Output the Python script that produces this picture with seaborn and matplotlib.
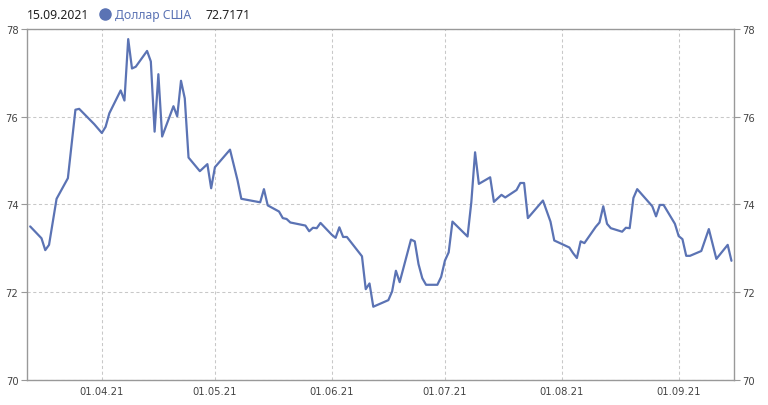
import pandas as pd
import matplotlib
matplotlib.use("Agg")
import matplotlib.pyplot as plt
import matplotlib.dates as mdates
from matplotlib.lines import Line2D
import seaborn as sns

# USD rate
dates = ["2021-03-13", "2021-03-16", "2021-03-17", "2021-03-18", "2021-03-20",
         "2021-03-23", "2021-03-25", "2021-03-26", "2021-03-30", "2021-04-01",
         "2021-04-02", "2021-04-03", "2021-04-06", "2021-04-07", "2021-04-08",
         "2021-04-09", "2021-04-10", "2021-04-13", "2021-04-14", "2021-04-15",
         "2021-04-16", "2021-04-17", "2021-04-20", "2021-04-21", "2021-04-22",
         "2021-04-23", "2021-04-24", "2021-04-27", "2021-04-29", "2021-04-30",
         "2021-05-01", "2021-05-05", "2021-05-07", "2021-05-08", "2021-05-13",
         "2021-05-14", "2021-05-15", "2021-05-18", "2021-05-19", "2021-05-20",
         "2021-05-21", "2021-05-25", "2021-05-26", "2021-05-27", "2021-05-28",
         "2021-05-29", "2021-06-01", "2021-06-02", "2021-06-03", "2021-06-04",
         "2021-06-05", "2021-06-09", "2021-06-10", "2021-06-11", "2021-06-12",
         "2021-06-16", "2021-06-17", "2021-06-18", "2021-06-19", "2021-06-22",
         "2021-06-23", "2021-06-24", "2021-06-25", "2021-06-26", "2021-06-29",
         "2021-06-30", "2021-07-01", "2021-07-02", "2021-07-03", "2021-07-07",
         "2021-07-08", "2021-07-09", "2021-07-10", "2021-07-13", "2021-07-14",
         "2021-07-16", "2021-07-17", "2021-07-20", "2021-07-21", "2021-07-22",
         "2021-07-23", "2021-07-27", "2021-07-29", "2021-07-30", "2021-08-03",
         "2021-08-04", "2021-08-05", "2021-08-06", "2021-08-07", "2021-08-10",
         "2021-08-11", "2021-08-12", "2021-08-13", "2021-08-14", "2021-08-17",
         "2021-08-18", "2021-08-19", "2021-08-20", "2021-08-21", "2021-08-25",
         "2021-08-26", "2021-08-27", "2021-08-28", "2021-08-31", "2021-09-01",
         "2021-09-02", "2021-09-03", "2021-09-04", "2021-09-07", "2021-09-09",
         "2021-09-11", "2021-09-14", "2021-09-15"]

usd = [73.50, 73.23, 72.96, 73.08, 74.13,
       74.60, 76.16, 76.18, 75.83, 75.63,
       75.77, 76.08, 76.60, 76.37, 77.77,
       77.10, 77.14, 77.50, 77.26, 75.66,
       76.97, 75.55, 76.24, 76.01, 76.82,
       76.42, 75.07, 74.76, 74.92, 74.37,
       74.85, 75.25, 74.55, 74.13, 74.05,
       74.35, 73.98, 73.84, 73.69, 73.67,
       73.59, 73.52, 73.39, 73.47, 73.46,
       73.58, 73.31, 73.24, 73.48, 73.26,
       73.26, 72.82, 72.07, 72.20, 71.67,
       71.82, 72.02, 72.49, 72.23, 73.20,
       73.16, 72.64, 72.32, 72.17, 72.17,
       72.35, 72.72, 72.91, 73.61, 73.27,
       74.05, 75.19, 74.47, 74.62, 74.06,
       74.22, 74.16, 74.33, 74.49, 74.49,
       73.69, 74.09, 73.61, 73.18, 73.02,
       72.89, 72.78, 73.16, 73.12, 73.49,
       73.59, 73.96, 73.56, 73.46, 73.38,
       73.47, 73.46, 74.15, 74.35, 73.96,
       73.73, 73.99, 73.99, 73.56, 73.28,
       73.21, 72.83, 72.83, 72.94, 73.44,
       72.76, 73.08, 72.7171]

y_ticks = [70, 72, 74, 76, 78]
legend_date = "15.09.2021"
legend_name = "Доллар США"
legend_value = "72.7171"

df = pd.DataFrame({"date": pd.to_datetime(dates), "usd": usd})

sns.set_theme(style="white")
plt.rcParams["font.family"] = ["DejaVu Sans"]

line_color = "#5b73b4"
axis_color = "#999999"

fig = plt.figure(figsize=(7.68, 4.06), dpi=100)
ax = fig.add_axes([0.0348, 0.0616, 0.9213, 0.8645])

sns.lineplot(data=df, x="date", y="usd", ax=ax, color=line_color, linewidth=1.6)

ax.set_ylim(70, 78)
ax.set_yticks(y_ticks)
ax.set_xlim(pd.Timestamp("2021-03-12 02:00"), pd.Timestamp("2021-09-15 18:00"))
ax.xaxis.set_major_locator(mdates.MonthLocator(bymonth=[4, 5, 6, 7, 8, 9]))
ax.xaxis.set_major_formatter(mdates.DateFormatter("%d.%m.%y"))
ax.set_xlabel("")
ax.set_ylabel("")

ax.grid(True, linestyle=(0, (3, 2.5)), color="#c8c8c8", linewidth=0.75)
for side in ["left", "right", "top", "bottom"]:
    ax.spines[side].set_visible(True)
    ax.spines[side].set_color(axis_color)
    ax.spines[side].set_linewidth(1.0)

ax.tick_params(axis="y", which="both", left=True, right=True, labelleft=True,
               labelright=True, length=4, width=0.8, color=axis_color,
               labelsize=7.2, labelcolor="#444444", pad=2)
ax.tick_params(axis="x", bottom=False, length=0, labelsize=7.2,
               labelcolor="#444444", pad=4)

# header legend
fig.text(0.035, 0.962, legend_date, fontsize=8.8, color="#222222",
         family="Noto Sans", va="center")
fig.add_artist(Line2D([0.137], [0.962], marker="o", markersize=8, color=line_color,
                      transform=fig.transFigure, linestyle="none"))
fig.text(0.150, 0.962, legend_name, fontsize=8.8, color=line_color,
         family="Noto Sans", weight="semibold", va="center")
fig.text(0.267, 0.962, legend_value, fontsize=8.8, color="#222222",
         family="Noto Sans", va="center")

fig.savefig("out.png", dpi=100, facecolor="white")
